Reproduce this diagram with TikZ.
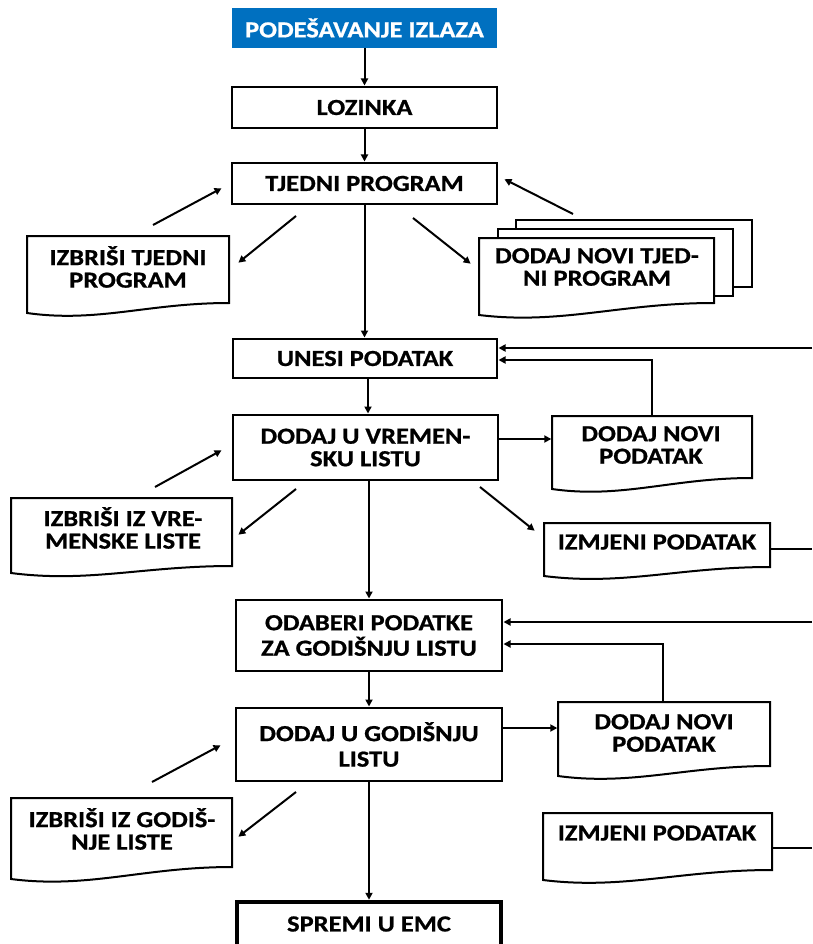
\documentclass[tikz,border=0pt]{standalone}
\usepackage{fontspec}
\setmainfont{Carlito}[FakeStretch=1.15, BoldFeatures={FakeBold=0.8}]
\usetikzlibrary{arrows.meta,fit}
\definecolor{titleblue}{HTML}{0070C0}
\tikzset{
 txt/.style={font=\bfseries\fontsize{23}{22.5}\selectfont, align=center, inner sep=0pt},
 wide/.style={font=\bfseries\fontsize{23}{25.5}\selectfont},
 pbox/.style={draw, line width=2pt, fill=white, txt},
 docline/.style={draw, line width=2pt, fill=white, line join=miter},
 arr/.style={line width=2pt, -{Triangle[length=7pt,width=7pt]}, shorten >=0.5pt},
 conn/.style={line width=2pt},
}
\newcommand\docshape[6]{%
 \draw[docline] (#2,#3) -- (#4,#3) -- (#4,#5) .. controls ({#4-0.4*(#4-#2)},#5) and ({#2+0.35*(#4-#2)},{#6+10}) .. (#2,#6) -- cycle;
 \coordinate (#1nw) at (#2,#3); \coordinate (#1se) at (#4,#5);
 \node[inner sep=0pt, fit=(#1nw)(#1se)] (#1) {};}
\begin{document}
\begin{tikzpicture}[x=1pt,y=-1pt]
\useasboundingbox (0,0) rectangle (812,944);
\clip (0,0) rectangle (812,944);
% main column
\node[txt, fill=titleblue, text=white, minimum width=265pt, minimum height=40pt] (title) at (364.5,28) {PODEŠAVANJE IZLAZA};
\node[pbox, minimum width=265pt, minimum height=41pt] (loz) at (364.5,107.5) {LOZINKA};
\node[pbox, minimum width=265pt, minimum height=41pt] (tp) at (364.5,183.5) {TJEDNI PROGRAM};
\node[pbox, minimum width=264pt, minimum height=39pt] (unesi) at (365,358.5) {UNESI PODATAK};
\node[pbox, minimum width=265pt, minimum height=65pt] (dvl) at (365.5,447.5) {DODAJ U VREMEN-\\SKU LISTU};
\node[pbox, wide, minimum width=266pt, minimum height=71pt] (odab) at (369,635.5) {ODABERI PODATKE\\ZA GODIŠNJU LISTU};
\node[pbox, wide, minimum width=266pt, minimum height=73pt] (dgl) at (369,744.5) {DODAJ U GODIŠNJU\\LISTU};
\node[pbox, line width=3.5pt, minimum width=264pt, minimum height=44pt] (spremi) at (369,924) {SPREMI U EMC};
% documents
\docshape{izt}{27}{236}{229}{303}{313}
\node[txt] (iztT) at (128,267) {IZBRIŠI TJEDNI\\PROGRAM};
\draw[docline] (516,220) rectangle (752,287);
\draw[docline] (498,229) rectangle (733,296);
\docshape{dntp}{479}{238}{714}{303}{315}
\node[txt] (dntpT) at (597,267) {DODAJ NOVI TJED-\\NI PROGRAM};
\docshape{dnpa}{552}{416}{752}{478}{489}
\node[txt] (dnpaT) at (651,445) {DODAJ NOVI\\PODATAK};
\docshape{izma}{544}{523}{770}{567}{576}
\node[txt] (izmaT) at (657,542) {IZMJENI PODATAK};
\docshape{izv}{11}{498}{232}{566}{573}
\node[txt] (izvT) at (123,528) {IZBRIŠI IZ VRE-\\MENSKE LISTE};
\docshape{dnpb}{558}{702}{770}{766}{776}
\node[txt] (dnpbT) at (664,733) {DODAJ NOVI\\PODATAK};
\docshape{izmb}{543}{813}{772}{870}{880}
\node[txt] (izmbT) at (657,833) {IZMJENI PODATAK};
\docshape{izg}{11}{798}{232}{867}{879}
\node[txt] (izgT) at (122,829) {IZBRIŠI IZ GODIŠ-\\NJE LISTE};
% main arrows
\draw[arr] (title.south) -- (loz.north);
\draw[arr] (loz.south) -- (tp.north);
\draw[arr] (tp.south) -- (tp.south |- unesi.north);
\draw[arr] ([xshift=3pt]unesi.south) -- ([xshift=3pt]unesi.south |- dvl.north);
\draw[arr] (odab.north |- dvl.south) -- (odab.north);
\draw[arr] (odab.south) -- (dgl.north);
\draw[arr] (dgl.south) -- (spremi.north);
% right side connectors
\coordinate (ra) at (812,348); \draw[arr] (ra) -- (ra -| unesi.east);
\coordinate (ka) at (652,360); \draw[arr] (ka |- dnpa.north) -- (ka) -- (ka -| unesi.east);
\coordinate (ha) at (0,439); \draw[arr] (ha -| dvl.east) -- (ha -| dnpa.west);
\coordinate (rb) at (812,549); \draw[conn] (rb -| izma.east) -- (rb);
\coordinate (rc) at (812,622); \draw[arr] (rc) -- (rc -| odab.east);
\coordinate (kb) at (663,644); \draw[arr] (kb |- dnpb.north) -- (kb) -- (kb -| odab.east);
\coordinate (hb) at (0,728); \draw[arr] (hb -| dgl.east) -- (hb -| dnpb.west);
\coordinate (rd) at (812,848); \draw[conn] (rd -| izmb.east) -- (rd);
% diagonal arrows
\coordinate (d1a) at (153,225); \coordinate (d1b) at (222,188); \draw[arr] (d1a) -- (d1b);
\coordinate (d2a) at (296,216); \coordinate (d2b) at (238,263); \draw[arr] (d2a) -- (d2b);
\coordinate (d3a) at (413,218); \coordinate (d3b) at (471,264); \draw[arr] (d3a) -- (d3b);
\coordinate (d4a) at (573,214); \coordinate (d4b) at (504,179); \draw[arr] (d4a) -- (d4b);
\coordinate (d5a) at (155,487); \coordinate (d5b) at (222,450); \draw[arr] (d5a) -- (d5b);
\coordinate (d6a) at (296,489); \coordinate (d6b) at (238,535); \draw[arr] (d6a) -- (d6b);
\coordinate (d7a) at (480,487); \coordinate (d7b) at (535,531); \draw[arr] (d7a) -- (d7b);
\coordinate (d8a) at (152,782); \coordinate (d8b) at (221,745); \draw[arr] (d8a) -- (d8b);
\coordinate (d9a) at (296,792); \coordinate (d9b) at (238,837); \draw[arr] (d9a) -- (d9b);
\end{tikzpicture}
\end{document}
